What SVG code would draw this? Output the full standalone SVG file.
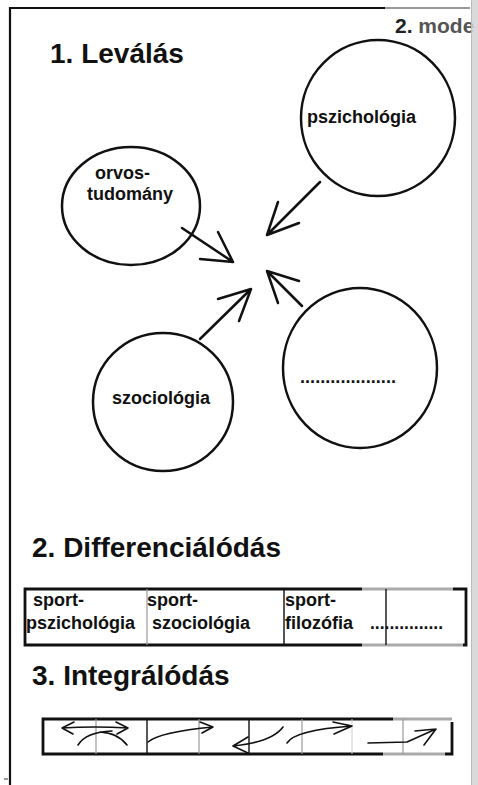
<svg xmlns="http://www.w3.org/2000/svg" width="478" height="785" viewBox="0 0 478 785">
<style>
.frame{stroke:#111;stroke-width:2.2;fill:none}
.circ{stroke:#111;stroke-width:2.5;fill:none}
.arr{stroke:#111;stroke-width:2.5;fill:none;stroke-linecap:round;stroke-linejoin:round}
.hand{stroke:#111;stroke-width:1.6;fill:none;stroke-linecap:round;stroke-linejoin:round}
.head{font-family:"Liberation Sans",Arial,sans-serif;font-weight:bold;font-size:28px;fill:#111}
.lbl{font-family:"Liberation Sans",Arial,sans-serif;font-weight:bold;font-size:18px;fill:#111}
.box{stroke:#111;stroke-width:2.8;fill:none}
.div{stroke:#111;stroke-width:1.4}
.divg{stroke:#999;stroke-width:1.2}
.grayedge{stroke:#aaa;stroke-width:2.8}
</style>
<rect width="478" height="785" fill="#fff"/>
<!-- page frame -->
<g id="frame">
<line class="frame" x1="10" y1="8" x2="385" y2="8"/>
<line x1="385" y1="8" x2="470" y2="8" stroke="#999" stroke-width="2"/>
<line class="frame" x1="10" y1="7" x2="10" y2="785"/>
<line x1="4" y1="779" x2="8" y2="779" stroke="#333" stroke-width="1"/>
</g>
<text id="corner" x="395" y="33" font-family="'Liberation Sans',Arial,sans-serif" font-weight="bold" font-size="21" fill="#222">2. <tspan fill="#555">mode</tspan></text>
<rect x="471" y="0" width="7" height="785" fill="#d4d4d4" fill-opacity="0.85"/>
<line x1="471.5" y1="0" x2="471.5" y2="785" stroke="#bbb" stroke-width="1"/>

<!-- section 1 -->
<text class="head" x="50" y="63">1. Leválás</text>
<g id="pszichologia">
<ellipse class="circ" cx="378" cy="118" rx="77" ry="78"/>
<text class="lbl" x="307" y="123">pszichológia</text>
</g>
<g id="orvostudomany">
<ellipse class="circ" cx="131" cy="206" rx="69" ry="59"/>
<text class="lbl" x="95" y="179" font-size="16" textLength="55" lengthAdjust="spacingAndGlyphs">orvos-</text>
<text class="lbl" x="87" y="200" font-size="16" textLength="86" lengthAdjust="spacingAndGlyphs">tudomány</text>
</g>
<g id="szociologia">
<ellipse class="circ" cx="163" cy="402" rx="70" ry="69"/>
<text class="lbl" x="112" y="404">szociológia</text>
</g>
<g id="egyeb">
<ellipse class="circ" cx="360" cy="368" rx="77" ry="80"/>
<text class="lbl" x="300" y="383" font-weight="normal" font-size="14" textLength="96" lengthAdjust="spacingAndGlyphs">...................</text>
</g>
<g id="connectors">
<path class="arr" d="M182,228 L233,262 M218,232 L233,262 L200,259"/>
<path class="arr" d="M320,182 L267,235 M278,202 L267,235 L299,223"/>
<path class="arr" d="M302,306 L267,271 M278,303 L267,271 L299,281"/>
<path class="arr" d="M200,339 L251,289 M218,299 L251,289 L239,321"/>
</g>

<!-- section 2 -->
<text class="head" x="32" y="557">2. Differenciálódás</text>
<g id="differencialodas">
<path class="box" d="M362,589 L25,589 L25,645 L362,645"/>
<path class="box" d="M453,589 L466,589 L466,645 L463,645"/>
<line class="grayedge" x1="362" y1="589" x2="453" y2="589"/>
<line class="grayedge" x1="362" y1="645" x2="463" y2="645"/>
<line class="divg" x1="147" y1="589" x2="147" y2="645"/>
<line class="div" x1="284" y1="589" x2="284" y2="645"/>
<line class="div" x1="386" y1="589" x2="386" y2="645"/>
<text class="lbl" x="33" y="606">sport-</text>
<text class="lbl" x="26" y="629">pszichológia</text>
<text class="lbl" x="147" y="606">sport-</text>
<text class="lbl" x="152" y="629">szociológia</text>
<text class="lbl" x="285" y="606">sport-</text>
<text class="lbl" x="285" y="629">filozófia</text>
<text class="lbl" x="370" y="629" font-weight="normal" font-size="14" textLength="73" lengthAdjust="spacingAndGlyphs">...............</text>
</g>

<!-- section 3 -->
<text class="head" x="32" y="685">3. Integrálódás</text>
<g id="integralodas">
<path class="box" d="M393,719 L43,719 L43,754 L383,754"/>
<path class="box" d="M445,754 L452,754 L452,722"/>
<line class="grayedge" x1="393" y1="719" x2="452" y2="719"/>
<line class="grayedge" x1="383" y1="754" x2="445" y2="754"/>
<line class="divg" x1="96" y1="719" x2="96" y2="754"/>
<line class="div" x1="147" y1="719" x2="147" y2="754"/>
<line class="divg" x1="199" y1="719" x2="199" y2="754"/>
<line class="div" x1="249" y1="719" x2="249" y2="754"/>
<line class="divg" x1="302" y1="719" x2="302" y2="754"/>
<line x1="352" y1="719" x2="352" y2="754" stroke="#ccc" stroke-width="1"/>
<line class="divg" x1="403" y1="719" x2="403" y2="754"/>
<path class="hand" d="M62,728 Q95,726 128,728 M74,722 L62,728 L73,734 M116,722 L128,728 L117,734 M78,745 Q86,732 112,731 M127,745 Q118,733 100,732"/>
<path class="hand" d="M148,742 Q160,732 213,727 M200,722 L213,727 L202,733"/>
<path class="hand" d="M283,727 Q272,742 233,746 M248,737 L233,746 L248,753"/>
<path class="hand" d="M287,743 Q295,730 352,726 M333,722 L352,726 L334,734"/>
<path class="hand" d="M368,743 L407,742 L436,729 M415,731 L436,729 L424,745"/>
</g>
</svg>
